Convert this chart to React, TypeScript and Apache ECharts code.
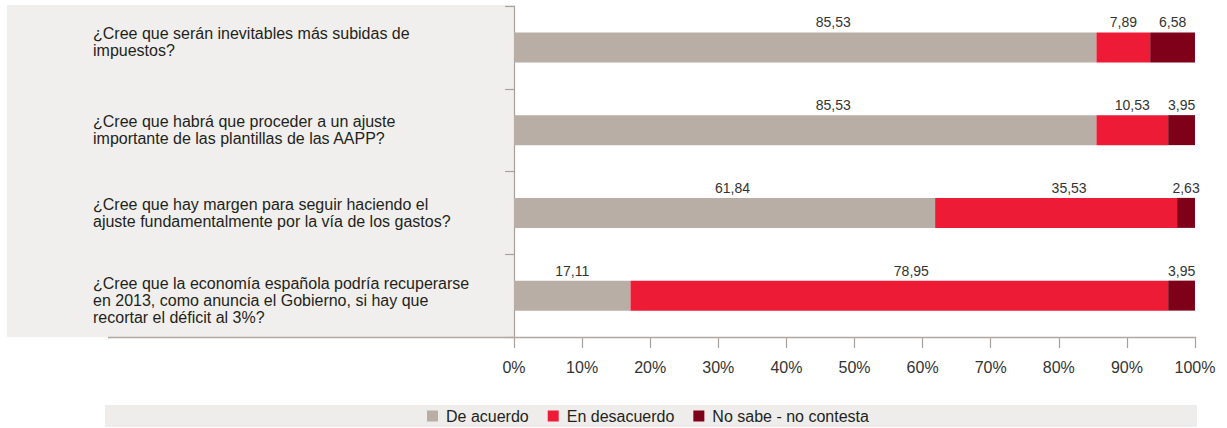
import React, { useEffect, useRef } from "react";
import * as echarts from "echarts";

const categories = [
  "¿Cree que serán inevitables más subidas de\nimpuestos?",
  "¿Cree que habrá que proceder a un ajuste\nimportante de las plantillas de las AAPP?",
  "¿Cree que hay margen para seguir haciendo el\najuste fundamentalmente por la vía de los gastos?",
  "¿Cree que la economía española podría recuperarse\nen 2013, como anuncia el Gobierno, si hay que\nrecortar el déficit al 3%?",
];
const seriesNames = ["De acuerdo", "En desacuerdo", "No sabe - no contesta"];
const deAcuerdo = [85.53, 85.53, 61.84, 17.11];
const enDesacuerdo = [7.89, 10.53, 35.53, 78.95];
const noSabe = [6.58, 3.95, 2.63, 3.95];
const xTicks = [0, 10, 20, 30, 40, 50, 60, 70, 80, 90, 100];

// label horizontal nudges (style only)
const labelNudge = [
  [28, 28, 8, 0],
  [0, 0, 13, 12],
  [0, 0, 0, 0],
];
// category label vertical shift: -1 up, 0 none, 1 down (style only)
const catShift = [-1, 0, 0, 1];

const colors = ["#b9aea6", "#ed1b36", "#7e0019"];
const numFont = '"Liberation Sans Narrow", "Arial Narrow", "Liberation Sans", Arial, sans-serif';
const textFont = '"Liberation Sans", Arial, sans-serif';

export default function App() {
  const ref = useRef<HTMLDivElement>(null);
  useEffect(() => {
    document.body.style.margin = "0";
    if (!ref.current) return;
    const chart = echarts.init(ref.current, undefined, { renderer: "svg" });
    const values = [deAcuerdo, enDesacuerdo, noSabe];
    const fmt = (v: number) => v.toFixed(2).replace(".", ",");
    chart.setOption({
      animation: false,
      grid: { left: 514, right: 32, top: 6, height: 331, containLabel: false, outerBoundsMode: "none" },
      legend: {
        left: 422,
        top: 403,
        itemWidth: 11,
        itemHeight: 11,
        itemGap: 19,
        icon: "rect",
        data: seriesNames,
        textStyle: { fontSize: 16, color: "#231f20", fontFamily: textFont, padding: [0, 0, 0, 3] },
      },
      graphic: {
        elements: [
          { type: "rect", z: -10, shape: { x: 7, y: 5, width: 507, height: 332 }, style: { fill: "#f1efed" } },
          { type: "rect", z: -10, shape: { x: 105, y: 405, width: 1092, height: 22 }, style: { fill: "#efedeb" } },
          { type: "line", z: 5, shape: { x1: 108, y1: 337.5, x2: 1196, y2: 337.5 }, style: { stroke: "#b0a8a1", lineWidth: 1.5 } },
        ],
      },
      xAxis: {
        type: "value",
        min: xTicks[0],
        max: xTicks[xTicks.length - 1],
        interval: 10,
        splitLine: { show: false },
        axisLine: { show: false },
        axisTick: { show: true, length: 11, lineStyle: { color: "#a8a19b", width: 1.2 } },
        axisLabel: {
          formatter: "{value}%",
          fontSize: 16,
          color: "#333333",
          fontFamily: textFont,
          margin: 22,
        },
      },
      yAxis: {
        type: "category",
        inverse: true,
        data: categories,
        axisLine: { show: true, lineStyle: { color: "#a8a19b", width: 1.2 } },
        axisTick: { show: true, length: 9, lineStyle: { color: "#a8a19b", width: 1.2 } },
        axisLabel: {
          align: "left",
          margin: 421,
          fontSize: 16,
          lineHeight: 17,
          color: "#231f20",
          fontFamily: textFont,
          formatter: (value: string, index: number) => {
            const s = catShift[index];
            if (s < 0) return value + "\n{gap| }";
            if (s > 0) return "{gap| }\n" + value;
            return value;
          },
          rich: {
            gap: { fontSize: 1, lineHeight: 10 },
          },
        },
      },
      series: seriesNames.map((name, si) => ({
        name,
        type: "bar",
        stack: "total",
        barWidth: 30,
        itemStyle: { color: colors[si] },
        data: values[si].map((v, i) => ({
          value: v,
          label: { offset: [labelNudge[si][i], 0] },
        })),
        label: {
          show: true,
          position: "top",
          distance: 3,
          fontSize: 14,
          color: "#333333",
          fontFamily: numFont,
          formatter: (p: any) => fmt(p.value),
        },
      })),
    });
    return () => chart.dispose();
  }, []);
  return <div ref={ref} style={{ width: 1227, height: 428 }} />;
}
